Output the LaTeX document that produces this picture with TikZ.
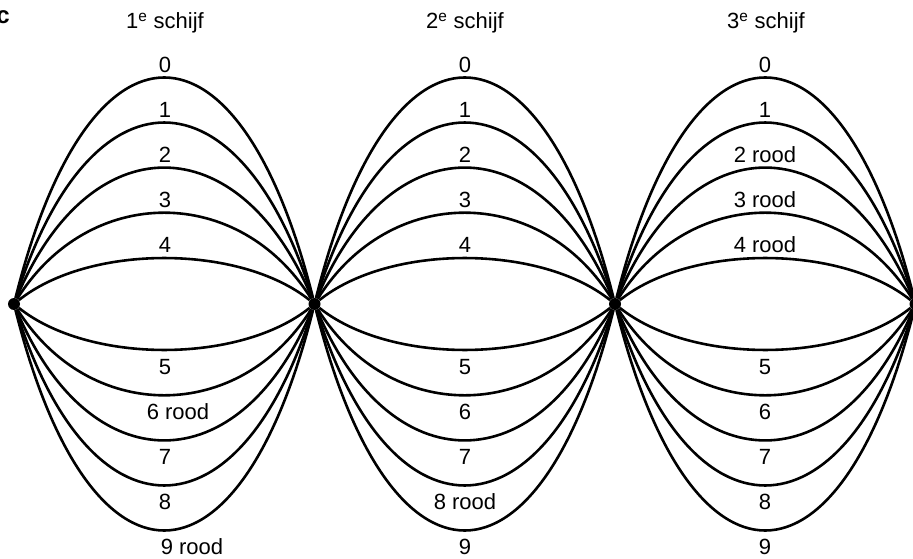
\documentclass[tikz,border=0pt]{standalone}
\usepackage{fontspec}
\setmainfont{Liberation Sans}
\usetikzlibrary{positioning}

\begin{document}
\begin{tikzpicture}[
  x=1pt, y=1pt,
  knot/.style={
    circle, fill=black, inner sep=0pt,
    minimum size=12pt
  },
  arc/.style={line width=2.6pt, draw=black},
  lbl/.style={font=\fontsize{22}{26}\selectfont, inner sep=0pt, anchor=center},
  head/.style={font=\fontsize{22}{26}\selectfont, inner sep=0pt}
]
\useasboundingbox (0,0) rectangle (913,558);

\node[knot] (n0) at (14,254)    {};
\node[knot] (n1) at (314.5,254) {};
\node[knot] (n2) at (615,254)   {};
\node[knot] (n3) at (915.5,254) {};

% arcs of each disc
\foreach \a/\b in {n0/n1, n1/n2, n2/n3} {
  \foreach \h in {300,240,180,120,60,-60,-120,-180,-240,-300}
    \draw[arc] (\a) .. controls +(75,\h) and +(-75,\h) .. (\b);
}

\node[font=\fontsize{24}{28}\selectfont\bfseries, inner sep=0pt] (tag) at (3,541) {c};

\node[head] (h1) at (165,535) {1\textsuperscript{e} schijf};
\node[head] (h2) at (465,535) {2\textsuperscript{e} schijf};
\node[head] (h3) at (766,535) {3\textsuperscript{e} schijf};

% first disc
\node[lbl] (a0) at (165,493) {0};
\node[lbl] (a1) at (165,448) {1};
\node[lbl] (a2) at (165,403) {2};
\node[lbl] (a3) at (165,358) {3};
\node[lbl] (a4) at (165,313) {4};
\node[lbl] (a5) at (165,191) {5};
\node[lbl] (a6) at (178,146) {6 rood};
\node[lbl] (a7) at (165,101) {7};
\node[lbl] (a8) at (165,56)  {8};
\node[lbl] (a9) at (192,11)  {9 rood};

% second disc
\node[lbl] (b0) at (465,493) {0};
\node[lbl] (b1) at (465,448) {1};
\node[lbl] (b2) at (465,403) {2};
\node[lbl] (b3) at (465,358) {3};
\node[lbl] (b4) at (465,313) {4};
\node[lbl] (b5) at (465,191) {5};
\node[lbl] (b6) at (465,146) {6};
\node[lbl] (b7) at (465,101) {7};
\node[lbl] (b8) at (465,56)  {8 rood};
\node[lbl] (b9) at (465,11)  {9};

% third disc
\node[lbl] (c0) at (765,493) {0};
\node[lbl] (c1) at (765,448) {1};
\node[lbl] (c2) at (765,403) {2 rood};
\node[lbl] (c3) at (765,358) {3 rood};
\node[lbl] (c4) at (765,313) {4 rood};
\node[lbl] (c5) at (765,191) {5};
\node[lbl] (c6) at (765,146) {6};
\node[lbl] (c7) at (765,101) {7};
\node[lbl] (c8) at (765,56)  {8};
\node[lbl] (c9) at (765,11)  {9};
\end{tikzpicture}
\end{document}
